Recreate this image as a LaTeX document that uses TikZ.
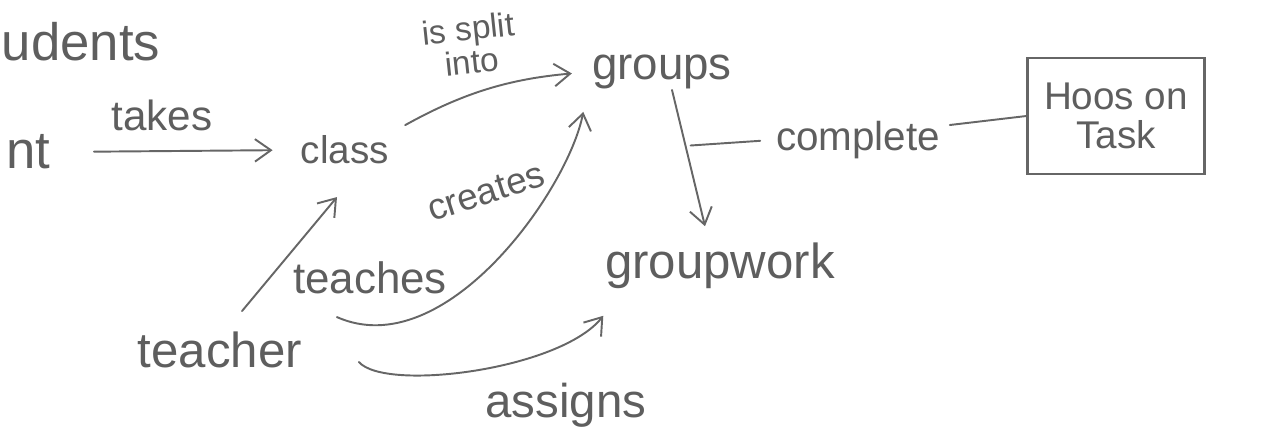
\documentclass[tikz,border=0pt]{standalone}
\usepackage{fontspec}
\setmainfont{Liberation Sans}
\usetikzlibrary{arrows.meta,calc}
\definecolor{pencil}{HTML}{5E5E5E}
\definecolor{pline}{HTML}{666666}
\newcommand\hwsz[1]{\fontsize{#1}{#1}\selectfont}
\begin{document}
\begin{tikzpicture}[x=0.02cm,y=-0.02cm,
  word/.style={inner sep=2pt, text=pencil},
  conn/.style={draw=pline, line width=1.1pt, line cap=round},
  arr/.style={conn, -{Straight Barb[length=0.32cm,width=0.45cm]}},
  boxnode/.style={word, draw=pline, line width=1.2pt, minimum width=3.54cm, minimum height=2.32cm, align=center}]
\useasboundingbox (0,0) rectangle (1280,439);

% nodes
\node[word, anchor=west, font=\hwsz{30}] (students) at (-2,42) {udents};
\node[word, anchor=east, font=\hwsz{30}] (student) at (54,152) {nt};
\node[word, font=\hwsz{24}] (takes) at (162,115) {takes};
\node[word, font=\hwsz{22}] (class) at (345,150) {class};
\node[word, font=\hwsz{19}, align=center, rotate=6] (split) at (470,45) {is split\\into};
\node[word, font=\hwsz{26}] (groups) at (662,72) {groups};
\node[word, font=\hwsz{21}, rotate=18] (creates) at (486,192) {creates};
\node[word, font=\hwsz{25}] (teaches) at (370,278) {teaches};
\node[word, font=\hwsz{28}] (teacher) at (220,350) {teacher};
\node[word, font=\hwsz{28}] (groupwork) at (720,266) {groupwork};
\node[word, font=\hwsz{27}] (assigns) at (566,405) {assigns};
\node[word, font=\hwsz{23}] (complete) at (858,140) {complete};
\node[boxnode, font=\hwsz{22}] (hoos) at (1116,116) {Hoos on\\Task};

% connectors
\draw[arr, shorten <=0.8cm, shorten >=0.49cm] (student.east) -- (class.west);
\draw[arr, shorten <=0.28cm, shorten >=0.33cm] (class.north east) to[bend left=12] (groups.west);
\draw[arr] ($(teacher.north)+(22,-17)$) -- ($(class.south)+(-8,29)$);
\draw[arr] ($(teacher.north east)+(31,-11)$) .. controls (445,365) and (568,190) .. ($(groups.south west)+(-5,19)$);
\draw[arr] ($(teacher.east)+(53,12)$) .. controls (385,392) and (560,370) .. ($(groupwork.south west)+(2,23)$);
\draw[arr] ($(groups.center)+(10,18)$) -- coordinate[pos=0.41] (gmid) ($(groupwork.north)+(-15,-13)$);
\draw[conn, shorten <=0.1cm, shorten >=0.24cm] (gmid) -- (complete.west);
\draw[conn] ($(complete.east)+(6,-15)$) -- (hoos.west);
\end{tikzpicture}
\end{document}
